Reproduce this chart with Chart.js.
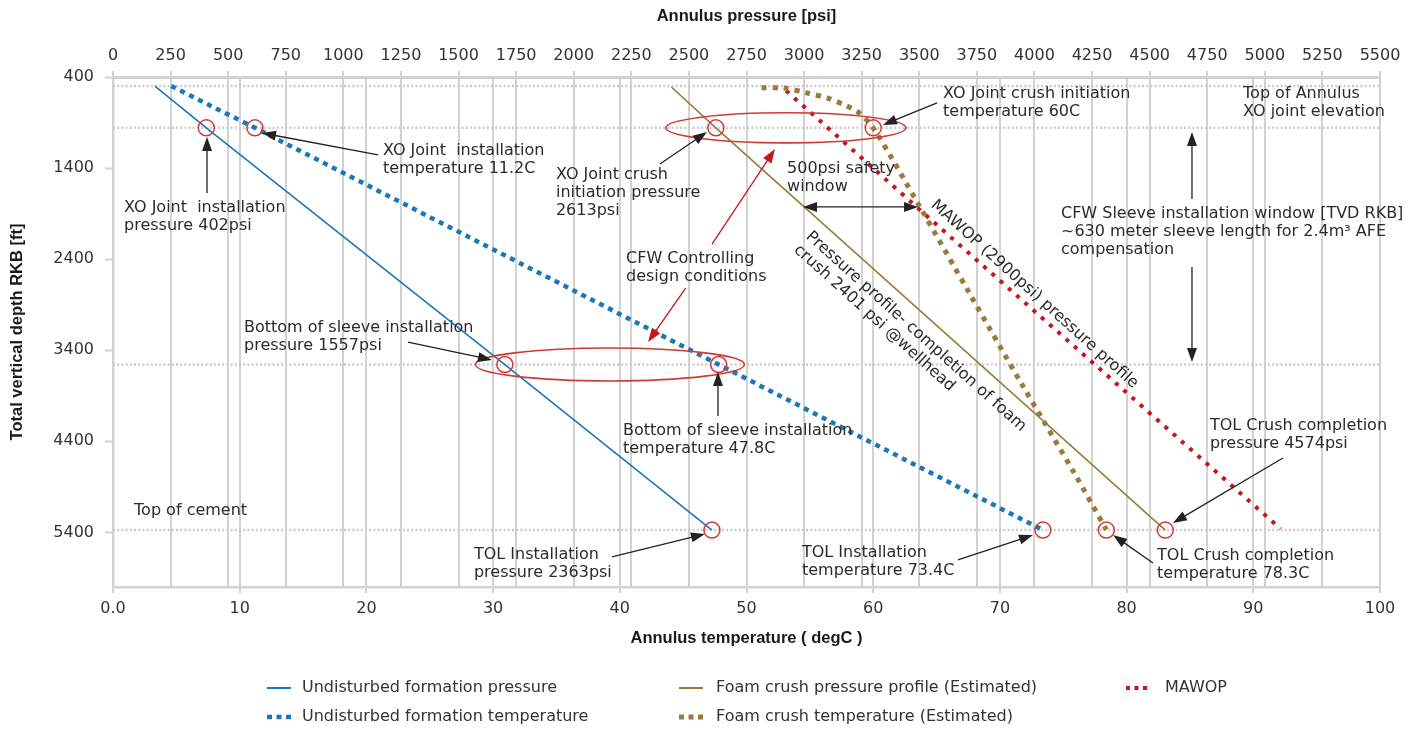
<!DOCTYPE html>
<html>
<head>
<meta charset="utf-8">
<script src="https://cdn.jsdelivr.net/npm/chart.js@4.4.1/dist/chart.umd.min.js"></script>
<style>
html,body{margin:0;padding:0;background:#ffffff;}
#wrap{position:relative;width:1420px;height:731px;}
</style>
</head>
<body>
<div id="wrap"><canvas id="c" width="1420" height="731"></canvas></div>
<script>
// ---------------- DATA ----------------
const depthTicks = [400, 1400, 2400, 3400, 4400, 5400];
const depthTickLabels = ['400', '1400', '2400', '3400', '4400', '5400'];
const pressureTicks = [0,250,500,750,1000,1250,1500,1750,2000,2250,2500,2750,3000,3250,3500,3750,4000,4250,4500,4750,5000,5250,5500];
const pressureTickLabels = ['0','250','500','750','1000','1250','1500','1750','2000','2250','2500','2750','3000','3250','3500','3750','4000','4250','4500','4750','5000','5250','5500'];
const temperatureTicks = [0,10,20,30,40,50,60,70,80,90,100];
const temperatureTickLabels = ['0.0','10','20','30','40','50','60','70','80','90','100'];

// reference depths: top of annulus, XO joint, bottom of sleeve, TOL / top of cement
const referenceDepths = [500, 958, 3557, 5375];

// Undisturbed formation pressure (psi vs ft)
const ufpDepth = [500, 958, 3557, 5375];
const ufpPsi   = [182, 405, 1701, 2600];
// Foam crush pressure profile (Estimated)
const fcpDepth = [510, 958, 5375];
const fcpPsi   = [2424, 2617, 4568];
// MAWOP
const mawopDepth = [550, 1830, 5360];
const mawopPsi   = [2922, 3490, 5068];
// Undisturbed formation temperature (degC vs ft)
const uftDepth = [500, 958, 3557, 5375];
const uftTemp  = [4.6, 11.2, 47.8, 73.4];
// Foam crush temperature (Estimated)
const fctDepth = [518, 521, 576, 631, 718, 784, 958, 1830, 2776, 3766, 4756, 5372];
const fctTemp  = [51.2, 52.9, 54.8, 56.4, 57.9, 58.8, 60.0, 63.7, 67.6, 71.7, 75.9, 78.4];

// circled points
const pressureMarkDepth = [958, 3557, 5375, 958, 5375];
const pressureMarkPsi   = [405, 1701, 2600, 2617, 4568];
const tempMarkDepth = [958, 3557, 5375, 958, 5375];
const tempMarkTemp  = [11.2, 47.8, 73.4, 60.0, 78.4];

// ---------------- STYLE / LAYOUT ----------------
const BLUE = '#1a77b8', OLIVE = '#9a7b3b', RED = '#c4161c', CIRCLE = '#d03a34';
const GRID = '#d2d2d2', TXT = '#2b2b2b';
const FONT = "'DejaVu Sans', sans-serif";

const pts = (xs, ys) => xs.map((v, i) => ({x: v, y: ys[i]}));

const datasets = [];
referenceDepths.forEach(d => datasets.push({
  label: '_ref', xAxisID: 'xp', yAxisID: 'y', order: 9,
  data: [{x: 0, y: d}, {x: 5500, y: d}],
  borderColor: '#cccccc', borderWidth: 2.5, borderDash: [2, 2.2], pointRadius: 0
}));
datasets.push({label: 'Undisturbed formation pressure', xAxisID: 'xp', yAxisID: 'y', order: 2,
  data: pts(ufpPsi, ufpDepth), borderColor: BLUE, borderWidth: 1.6, pointRadius: 0});
datasets.push({label: 'Undisturbed formation temperature', xAxisID: 'xt', yAxisID: 'y', order: 2,
  data: pts(uftTemp, uftDepth), borderColor: BLUE, borderWidth: 4.5, borderDash: [5, 5], pointRadius: 0});
datasets.push({label: 'Foam crush pressure profile (Estimated)', xAxisID: 'xp', yAxisID: 'y', order: 2,
  data: pts(fcpPsi, fcpDepth), borderColor: OLIVE, borderWidth: 1.6, pointRadius: 0});
datasets.push({label: 'Foam crush temperature (Estimated)', xAxisID: 'xt', yAxisID: 'y', order: 2,
  data: pts(fctTemp, fctDepth), borderColor: OLIVE, borderWidth: 5, borderDash: [5, 6], pointRadius: 0, tension: 0.3});
datasets.push({label: 'MAWOP', xAxisID: 'xp', yAxisID: 'y', order: 2,
  data: pts(mawopPsi, mawopDepth), borderColor: RED, borderWidth: 4, borderDash: [4, 7], pointRadius: 0});
datasets.push({label: '_pmarks', xAxisID: 'xp', yAxisID: 'y', order: 0, showLine: false,
  data: pts(pressureMarkPsi, pressureMarkDepth), pointRadius: 8, pointBorderWidth: 1.5,
  pointBorderColor: CIRCLE, pointBackgroundColor: 'rgba(0,0,0,0)'});
datasets.push({label: '_tmarks', xAxisID: 'xt', yAxisID: 'y', order: 0, showLine: false,
  data: pts(tempMarkTemp, tempMarkDepth), pointRadius: 8, pointBorderWidth: 1.5,
  pointBorderColor: CIRCLE, pointBackgroundColor: 'rgba(0,0,0,0)'});

// annotation placement (temperature degC, depth ft) of first line, left-middle
const notes = [
  {t: 0.87,  d: 1838, text: ['XO Joint  installation', 'pressure 402psi']},
  {t: 21.31, d: 1212, text: ['XO Joint  installation', 'temperature 11.2C']},
  {t: 34.96, d: 1476, text: ['XO Joint crush', 'initiation pressure', '2613psi']},
  {t: 65.51, d: 587,  text: ['XO Joint crush initiation', 'temperature 60C']},
  {t: 89.19, d: 587,  text: ['Top of Annulus', 'XO joint elevation']},
  {t: 53.2,  d: 1410, text: ['500psi safety', 'window']},
  {t: 40.49, d: 2398, text: ['CFW Controlling', 'design conditions']},
  {t: 74.82, d: 1904, text: ['CFW Sleeve installation window [TVD RKB]', '~630 meter sleeve length for 2.4m\u00B3 AFE', 'compensation']},
  {t: 10.34, d: 3156, text: ['Bottom of sleeve installation', 'pressure 1557psi']},
  {t: 1.66,  d: 5165, text: ['Top of cement']},
  {t: 40.25, d: 4287, text: ['Bottom of sleeve installation', 'temperature 47.8C']},
  {t: 28.49, d: 5648, text: ['TOL Installation', 'pressure 2363psi']},
  {t: 54.38, d: 5626, text: ['TOL Installation', 'temperature 73.4C']},
  {t: 86.58, d: 4232, text: ['TOL Crush completion', 'pressure 4574psi']},
  {t: 82.4,  d: 5659, text: ['TOL Crush completion', 'temperature 78.3C']}
];
const rotNotes = [
  {t: 64.72, d: 1783, angle: 42, text: ['MAWOP (2900psi) pressure profile']},
  {t: 54.86, d: 2129, angle: 42, text: ['Pressure profile- completion of foam', 'crush 2401 psi @wellhead']}
];
const arrows = [
  {t1: 7.42,  d1: 1674, t2: 7.42,  d2: 1059, c: '#222'},
  {t1: 20.92, d1: 1256, t2: 11.76, d2: 1015, c: '#222'},
  {t1: 43.17, d1: 1355, t2: 46.88, d2: 1004, c: '#222'},
  {t1: 65.04, d1: 685,  t2: 60.77, d2: 927,  c: '#222'},
  {t1: 47.28, d1: 2234, t2: 52.25, d2: 1191, c: RED},
  {t1: 45.2,  d1: 2717, t2: 42.23, d2: 3310, c: RED},
  {t1: 54.46, d1: 1827, t2: 63.54, d2: 1827, c: '#222', both: true},
  {t1: 23.28, d1: 3310, t2: 29.91, d2: 3507, c: '#222'},
  {t1: 47.75, d1: 4122, t2: 47.75, d2: 3639, c: '#222'},
  {t1: 39.38, d1: 5670, t2: 46.72, d2: 5418, c: '#222'},
  {t1: 66.69, d1: 5703, t2: 72.61, d2: 5429, c: '#222'},
  {t1: 82.08, d1: 5736, t2: 78.93, d2: 5429, c: '#222'},
  {t1: 92.34, d1: 4583, t2: 83.66, d2: 5297, c: '#222'},
  {t1: 85.16, d1: 1740, t2: 85.16, d2: 1004, c: '#222'},
  {t1: 85.16, d1: 2486, t2: 85.16, d2: 3529, c: '#222'}
];
// ellipses in pressure/depth units: centre and radii
const ellipses = [
  {p: 2921, d: 958,  rp: 521, rd: 165},
  {p: 2157, d: 3557, rp: 584, rd: 181}
];
const legendLayout = {
  cols: [{sx: 267, len: 24, tx: 302}, {sx: 679, len: 24, tx: 716}, {sx: 1126, len: 21, tx: 1165}],
  rows: [688, 717],
  items: [
    {label: 'Undisturbed formation pressure', col: 0, row: 0},
    {label: 'Undisturbed formation temperature', col: 0, row: 1},
    {label: 'Foam crush pressure profile (Estimated)', col: 1, row: 0},
    {label: 'Foam crush temperature (Estimated)', col: 1, row: 1},
    {label: 'MAWOP', col: 2, row: 0}
  ]
};

function drawArrowHead(ctx, x, y, ang, color) {
  const L = 14, W = 5;
  ctx.fillStyle = color;
  ctx.beginPath();
  ctx.moveTo(x, y);
  ctx.lineTo(x - L * Math.cos(ang) - W * Math.sin(ang), y - L * Math.sin(ang) + W * Math.cos(ang));
  ctx.lineTo(x - L * Math.cos(ang) + W * Math.sin(ang), y - L * Math.sin(ang) - W * Math.cos(ang));
  ctx.closePath();
  ctx.fill();
}

const annotationPlugin = {
  id: 'annot',
  afterDraw(chart) {
    const ctx = chart.ctx;
    const xt = chart.scales.xt, xp = chart.scales.xp, ys = chart.scales.y;
    const X = t => xt.getPixelForValue(t), Y = d => ys.getPixelForValue(d);
    ctx.save();
    // ellipses
    ctx.strokeStyle = CIRCLE; ctx.lineWidth = 1.6; ctx.setLineDash([]);
    ellipses.forEach(e => {
      const cx = xp.getPixelForValue(e.p), cy = Y(e.d);
      const rx = xp.getPixelForValue(e.p + e.rp) - cx;
      const ry = Y(e.d + e.rd) - cy;
      ctx.beginPath(); ctx.ellipse(cx, cy, rx, ry, 0, 0, Math.PI * 2); ctx.stroke();
    });
    // arrows
    arrows.forEach(a => {
      const x1 = X(a.t1), y1 = Y(a.d1), x2 = X(a.t2), y2 = Y(a.d2);
      const ang = Math.atan2(y2 - y1, x2 - x1);
      ctx.strokeStyle = a.c; ctx.lineWidth = 1.3;
      let sx = x1, sy = y1;
      if (a.both) { sx = x1 + 12 * Math.cos(ang); sy = y1 + 12 * Math.sin(ang); }
      ctx.beginPath(); ctx.moveTo(sx, sy);
      ctx.lineTo(x2 - 12 * Math.cos(ang), y2 - 12 * Math.sin(ang)); ctx.stroke();
      drawArrowHead(ctx, x2, y2, ang, a.c);
      if (a.both) drawArrowHead(ctx, x1, y1, ang + Math.PI, a.c);
    });
    // text notes
    ctx.fillStyle = TXT; ctx.font = '16px ' + FONT; ctx.textBaseline = 'middle'; ctx.textAlign = 'left';
    notes.forEach(n => {
      const x = X(n.t), y = Y(n.d);
      n.text.forEach((s, i) => ctx.fillText(s, x, y + i * 18));
    });
    rotNotes.forEach(n => {
      ctx.save();
      ctx.translate(X(n.t), Y(n.d));
      ctx.rotate(n.angle * Math.PI / 180);
      n.text.forEach((s, i) => ctx.fillText(s, 0, i * 18));
      ctx.restore();
    });
    // legend
    legendLayout.items.forEach(it => {
      const ds = chart.data.datasets.find(d => d.label === it.label);
      const col = legendLayout.cols[it.col], y = legendLayout.rows[it.row];
      ctx.strokeStyle = ds.borderColor; ctx.lineCap = 'butt';
      if (ds.borderDash) {
        const d = ds.borderDash[0];
        ctx.lineWidth = ds.borderWidth;
        ctx.setLineDash([d, (col.len - 3 * d) / 2]);
      } else {
        ctx.lineWidth = 2; ctx.setLineDash([]);
      }
      ctx.beginPath(); ctx.moveTo(col.sx, y); ctx.lineTo(col.sx + col.len, y); ctx.stroke();
      ctx.setLineDash([]);
      ctx.fillStyle = '#333'; ctx.font = '16px ' + FONT;
      ctx.fillText(it.label, col.tx, y);
    });
    ctx.restore();
  }
};

Chart.defaults.font.family = FONT;
Chart.defaults.font.size = 16;
Chart.defaults.color = '#333';

const titleFont = {family: "'Liberation Sans', Arial, sans-serif", weight: 'bold', size: 16.5};

new Chart(document.getElementById('c'), {
  type: 'line',
  data: {datasets},
  options: {
    responsive: false, animation: false, events: [],
    layout: {padding: {left: 0, right: 40, top: 0, bottom: 0}},
    plugins: {legend: {display: false}, tooltip: {enabled: false}},
    scales: {
      xp: {
        type: 'linear', axis: 'x', position: 'top', min: 0, max: 5500,
        afterBuildTicks: s => { s.ticks = pressureTicks.map(v => ({value: v})); },
        afterFit: s => { s.height = 77; },
        ticks: {autoSkip: false, maxRotation: 0, minRotation: 0, padding: 6, color: '#333',
          callback: (v) => pressureTickLabels[pressureTicks.indexOf(v)]},
        grid: {color: GRID, lineWidth: 2, tickLength: 6, tickColor: GRID, tickWidth: 2},
        border: {color: GRID, width: 3},
        title: {display: true, text: 'Annulus pressure [psi]', font: titleFont, color: '#1a1a1a', padding: {top: 7, bottom: 0}}
      },
      xt: {
        type: 'linear', axis: 'x', position: 'bottom', min: 0, max: 100,
        afterBuildTicks: s => { s.ticks = temperatureTicks.map(v => ({value: v})); },
        afterFit: s => { s.height = 144; },
        ticks: {autoSkip: false, maxRotation: 0, minRotation: 0, padding: 6, color: '#333',
          callback: (v) => temperatureTickLabels[temperatureTicks.indexOf(v)]},
        grid: {color: GRID, lineWidth: 2, tickLength: 6, tickColor: GRID, tickWidth: 2},
        border: {color: GRID, width: 2.5},
        title: {display: true, text: 'Annulus temperature ( degC )', font: titleFont, color: '#1a1a1a', padding: {top: 0, bottom: 83}}
      },
      y: {
        type: 'linear', position: 'left', reverse: true, min: 400, max: 6000,
        afterBuildTicks: s => { s.ticks = depthTicks.map(v => ({value: v})); },
        afterFit: s => { s.width = 113; },
        ticks: {autoSkip: false, padding: 11, color: '#333',
          callback: (v) => depthTickLabels[depthTicks.indexOf(v)]},
        grid: {drawOnChartArea: false, tickLength: 8, tickColor: GRID, tickWidth: 2},
        border: {color: GRID, width: 2.5},
        title: {display: true, text: 'Total vertical depth RKB [ft]', font: titleFont, color: '#1a1a1a', padding: {top: 7.5, bottom: 0}}
      }
    }
  },
  plugins: [annotationPlugin]
});
</script>
</body>
</html>
